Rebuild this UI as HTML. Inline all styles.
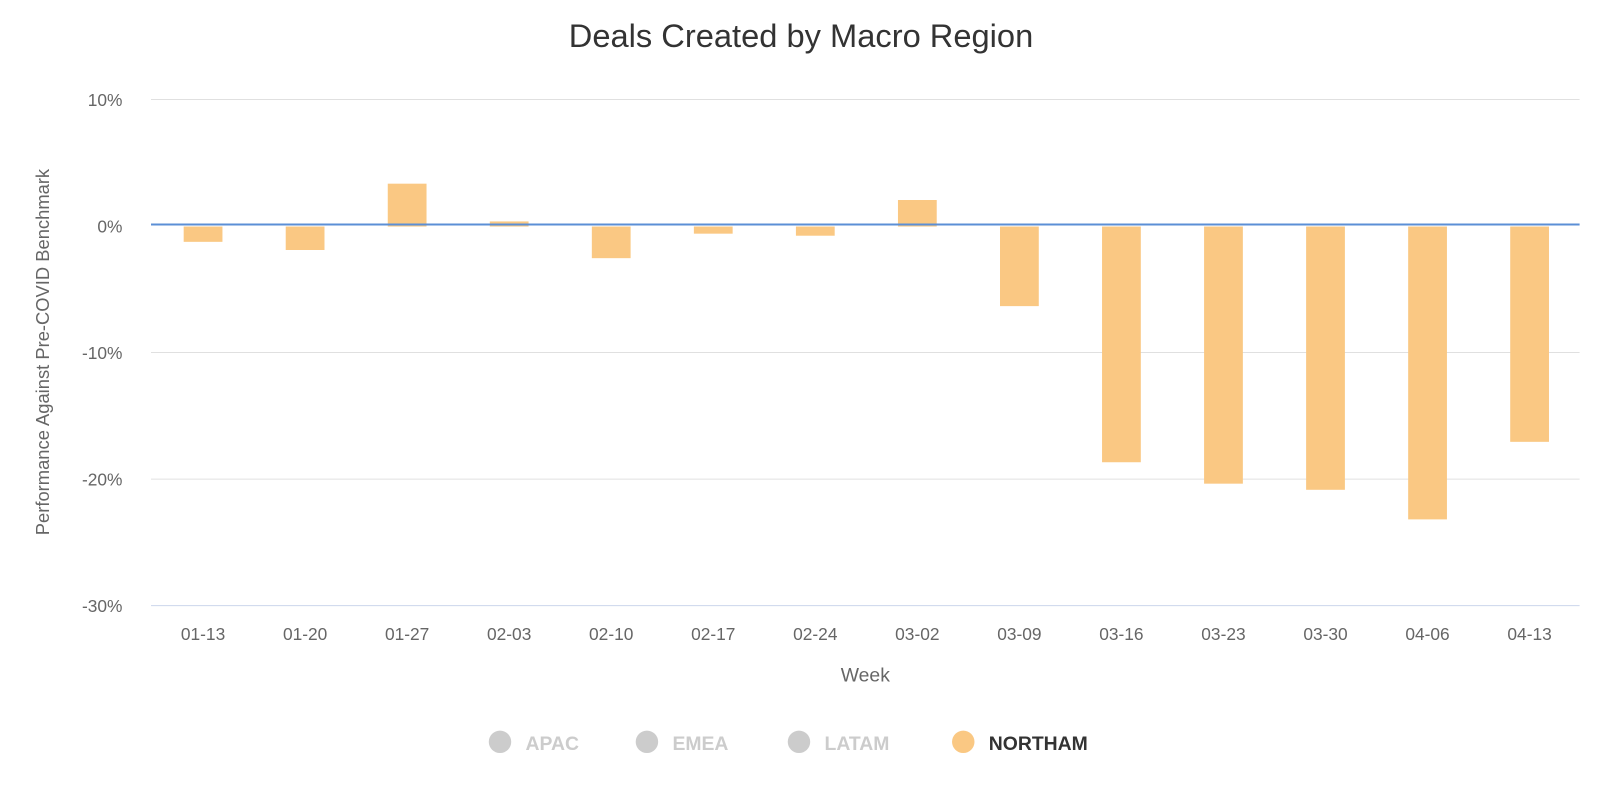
<!DOCTYPE html>
<html><head><meta charset="utf-8"><style>body{margin:0;background:#fff}svg{display:block}</style></head>
<body>
<svg width="1600" height="800" viewBox="0 0 1568 784" preserveAspectRatio="none" xmlns="http://www.w3.org/2000/svg" font-family="'Liberation Sans', sans-serif">
<text x="785" y="46" text-anchor="middle" font-size="32" fill="#333">Deals Created by Macro Region</text>
<g stroke="#e0e0e0" stroke-width="1">
<line x1="148" x2="1548" y1="97.5" y2="97.5"/>
<line x1="148" x2="1548" y1="345.5" y2="345.5"/>
<line x1="148" x2="1548" y1="469.5" y2="469.5"/>
</g>
<line x1="148" x2="1548" y1="593.5" y2="593.5" stroke="#ccd6eb"/>
<g font-size="17" fill="#666" text-anchor="end">
<text x="120" y="104">10%</text>
<text x="120" y="228">0%</text>
<text x="120" y="352">-10%</text>
<text x="120" y="476">-20%</text>
<text x="120" y="600">-30%</text>
</g>
<text transform="translate(48,345) rotate(-90)" text-anchor="middle" font-size="18" fill="#666">Performance Against Pre-COVID Benchmark</text>
<g fill="#fac883">
<rect x="180" y="222" width="38" height="15"/>
<rect x="280" y="222" width="38" height="23"/>
<rect x="380" y="180" width="38" height="42"/>
<rect x="480" y="217" width="38" height="5"/>
<rect x="580" y="222" width="38" height="31"/>
<rect x="680" y="222" width="38" height="7"/>
<rect x="780" y="222" width="38" height="9"/>
<rect x="880" y="196" width="38" height="26"/>
<rect x="980" y="222" width="38" height="78"/>
<rect x="1080" y="222" width="38" height="231"/>
<rect x="1180" y="222" width="38" height="252"/>
<rect x="1280" y="222" width="38" height="258"/>
<rect x="1380" y="222" width="38" height="287"/>
<rect x="1480" y="222" width="38" height="211"/>
</g>
<line x1="148" x2="1548" y1="220" y2="220" stroke="#5b8fd6" stroke-width="2"/>
<g font-size="17" fill="#666" text-anchor="middle">
<text x="199" y="627">01-13</text><text x="299" y="627">01-20</text><text x="399" y="627">01-27</text>
<text x="499" y="627">02-03</text><text x="599" y="627">02-10</text><text x="699" y="627">02-17</text>
<text x="799" y="627">02-24</text><text x="899" y="627">03-02</text><text x="999" y="627">03-09</text>
<text x="1099" y="627">03-16</text><text x="1199" y="627">03-23</text><text x="1299" y="627">03-30</text>
<text x="1399" y="627">04-06</text><text x="1499" y="627">04-13</text>
</g>
<text x="848" y="668" text-anchor="middle" font-size="19" fill="#666">Week</text>
<g font-size="19" font-weight="bold">
<circle cx="490" cy="727" r="11" fill="#ccc"/><text x="515" y="735" fill="#ccc">APAC</text>
<circle cx="634" cy="727" r="11" fill="#ccc"/><text x="659" y="735" fill="#ccc">EMEA</text>
<circle cx="783" cy="727" r="11" fill="#ccc"/><text x="808" y="735" fill="#ccc">LATAM</text>
<circle cx="944" cy="727" r="11" fill="#fac883"/><text x="969" y="735" fill="#333">NORTHAM</text>
</g>
</svg>
</body></html>
